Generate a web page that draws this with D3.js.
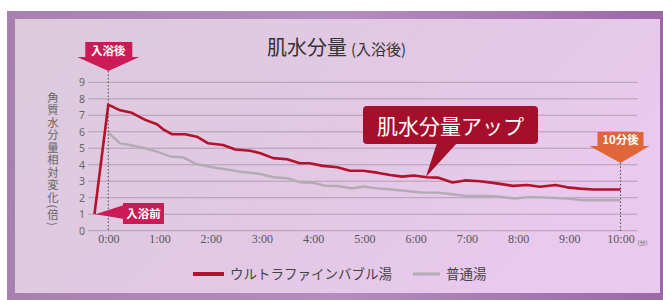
<!DOCTYPE html>
<html>
<head>
<meta charset="utf-8">
<script src="https://cdn.jsdelivr.net/npm/d3@7"></script>
<style>
  body { margin: 0; background: #fff; }
  svg { display: block; }
</style>
</head>
<body>
<div class="chart"></div>
<script>
// values (t = minutes after bath, v = relative change)
var ultraT = [-0.27, 0, 0.23, 0.46, 0.72, 0.95, 1.07, 1.24, 1.5, 1.73, 1.95, 2.24, 2.48, 2.77, 2.97, 3.22, 3.49, 3.74, 3.93, 4.19, 4.47, 4.72, 4.98, 5.25, 5.5, 5.74, 5.96, 6.22, 6.43, 6.72, 6.96, 7.26, 7.51, 7.9, 8.18, 8.43, 8.73, 8.96, 9.21, 9.47, 10];
var ultraV = [1, 7.65, 7.3, 7.15, 6.72, 6.46, 6.15, 5.85, 5.85, 5.7, 5.3, 5.2, 4.92, 4.85, 4.7, 4.4, 4.33, 4.09, 4.09, 3.93, 3.85, 3.64, 3.64, 3.52, 3.38, 3.28, 3.35, 3.24, 3.22, 2.92, 3.05, 3.0, 2.9, 2.72, 2.77, 2.67, 2.77, 2.63, 2.55, 2.5, 2.5];
var plainT = [0, 0.23, 0.42, 0.72, 0.95, 1.21, 1.46, 1.73, 2.12, 2.38, 2.57, 2.97, 3.22, 3.49, 3.74, 4.0, 4.23, 4.47, 4.77, 4.98, 5.25, 5.53, 5.83, 6.15, 6.42, 6.72, 7.0, 7.39, 7.65, 7.94, 8.23, 8.62, 8.96, 9.27, 10];
var plainV = [5.95, 5.3, 5.2, 5.0, 4.8, 4.5, 4.45, 4.03, 3.8, 3.68, 3.58, 3.44, 3.24, 3.18, 2.94, 2.91, 2.73, 2.71, 2.57, 2.68, 2.57, 2.5, 2.41, 2.31, 2.31, 2.21, 2.1, 2.1, 2.06, 1.95, 2.05, 2.0, 1.95, 1.85, 1.85];
var xTicks = [0, 1, 2, 3, 4, 5, 6, 7, 8, 9, 10];
var xTickLabels = ["0:00", "1:00", "2:00", "3:00", "4:00", "5:00", "6:00", "7:00", "8:00", "9:00", "10:00"];
var yTicks = [0, 1, 2, 3, 4, 5, 6, 7, 8, 9];
var seriesNames = ["ウルトラファインバブル湯", "普通湯"];
var yTitle = "角質水分量相対変化(倍)";

var W = 663, H = 300;
var redC = "#b3112c", grayC = "#b3abb3", pinkC = "#cc1a57", orangeC = "#e0663a";

var svg = d3.select("div.chart").append("svg")
    .attr("width", W)
    .attr("height", H);

var defs = svg.append("defs");
var frameG = defs.append("linearGradient").attr("id", "frame").attr("x1", 0).attr("x2", 1);
frameG.append("stop").attr("offset", 0).attr("stop-color", "#a880b0");
frameG.append("stop").attr("offset", 0.5).attr("stop-color", "#b58cc0");
frameG.append("stop").attr("offset", 1).attr("stop-color", "#9c68a8");
var panelG = defs.append("linearGradient").attr("id", "panel").attr("x1", 0).attr("x2", 1).attr("y1", 0).attr("y2", 0.4);
panelG.append("stop").attr("offset", 0).attr("stop-color", "#dccbdc");
panelG.append("stop").attr("offset", 0.55).attr("stop-color", "#e2c8e4");
panelG.append("stop").attr("offset", 1).attr("stop-color", "#e9c9ee");

// frame + panel
svg.append("rect").attr("x", 7).attr("y", 11).attr("width", W - 7).attr("height", H - 11).attr("fill", "url(#frame)");
svg.append("rect").attr("x", 15).attr("y", 19).attr("width", 645).attr("height", 274).attr("fill", "url(#panel)");

var x = d3.scaleLinear().domain([0, 10]).range([108.3, 620.5]);
var y = d3.scaleLinear().domain([0, 9]).range([230.7, 82.3]);

// grid
svg.append("g").selectAll("line")
    .data(yTicks)
    .join("line")
    .attr("x1", x(-0.39)).attr("x2", x(10.33))
    .attr("y1", function (d) { return y(d); })
    .attr("y2", function (d) { return y(d); })
    .attr("stroke", "#ab9aac")
    .attr("stroke-width", 0.9);

// y axis labels
var yAxis = d3.axisLeft(y).tickValues(yTicks).tickSize(0).tickPadding(0);
var yg = svg.append("g").attr("transform", "translate(82,0)").call(yAxis);
yg.select(".domain").remove();
yg.selectAll("text").attr("fill", "#666").style("font-family", "'Noto Sans', sans-serif").style("font-size", "10.5px").attr("text-anchor", "middle");

// x axis labels
var xAxis = d3.axisBottom(x).tickValues(xTicks).tickSize(0).tickPadding(0)
    .tickFormat(function (d, i) { return xTickLabels[i]; });
var xg = svg.append("g").attr("transform", "translate(0,234)").call(xAxis);
xg.select(".domain").remove();
xg.selectAll("text").attr("fill", "#555").style("font-family", "'Liberation Serif', serif").style("font-size", "12px");
svg.append("text").attr("x", x(10) + 17).attr("y", 245).attr("fill", "#666")
    .style("font-family", "'Noto Sans CJK JP'").style("font-size", "6px").text("(分)");

// y axis title, vertical text
svg.append("text")
    .attr("x", 53).attr("y", 92)
    .style("writing-mode", "vertical-rl")
    .style("font-family", "'Noto Sans CJK JP'")
    .style("font-size", "11.3px")
    .style("letter-spacing", "1.2px")
    .attr("fill", "#666")
    .text(yTitle);

// title
var title = svg.append("text").attr("x", 267).attr("y", 55).attr("fill", "#333").style("font-family", "'Noto Sans CJK JP'");
title.append("tspan").style("font-size", "20px").text("肌水分量");
title.append("tspan").attr("dx", 4).style("font-size", "15px").text("(入浴後)");

// dotted markers
[0, 10].forEach(function (t, i) {
    svg.append("line")
        .attr("x1", x(t)).attr("x2", x(t))
        .attr("y1", i === 0 ? 71 : 163).attr("y2", 232)
        .attr("stroke", "#555").attr("stroke-width", 1.1)
        .attr("stroke-dasharray", "1.5,2");
});

// lines
var line = d3.line()
    .x(function (d) { return x(d[0]); })
    .y(function (d) { return y(d[1]); });

svg.append("path")
    .datum(d3.zip(plainT, plainV))
    .attr("d", line)
    .attr("fill", "none")
    .attr("stroke", grayC)
    .attr("stroke-width", 2.4)
    .attr("stroke-linejoin", "round");

svg.append("path")
    .datum(d3.zip(ultraT, ultraV))
    .attr("d", line)
    .attr("fill", "none")
    .attr("stroke", redC)
    .attr("stroke-width", 2.6)
    .attr("stroke-linejoin", "round");

var lbl = { "font-family": "'Noto Sans CJK JP'", "font-weight": "bold", "font-size": "11.5px" };
function styleText(t) {
    Object.keys(lbl).forEach(function (k) { t.style(k, lbl[k]); });
    return t;
}

// 入浴後 marker
var x0 = x(0);
svg.append("rect").attr("x", x0 - 23).attr("y", 42).attr("width", 47).attr("height", 16).attr("fill", pinkC);
svg.append("path").attr("d", "M" + (x0 - 31) + ",57L" + (x0 + 31) + ",57L" + x0 + ",71Z").attr("fill", pinkC);
styleText(svg.append("text").attr("x", x0).attr("y", 54.5).attr("text-anchor", "middle").attr("fill", "#fff").text("入浴後"));

// 入浴前 marker
var sx = x(ultraT[0]), sy = y(ultraV[0]);
svg.append("path").attr("d", "M" + (sx + 1) + "," + sy + "L124,205L124,219Z").attr("fill", pinkC);
svg.append("rect").attr("x", 123).attr("y", 203).attr("width", 41).attr("height", 21).attr("fill", pinkC);
styleText(svg.append("text").attr("x", 143.5).attr("y", 218).attr("text-anchor", "middle").attr("fill", "#fff").text("入浴前"));

// 10分後 marker
var x10 = x(10);
svg.append("rect").attr("x", x10 - 23).attr("y", 132).attr("width", 46).attr("height", 15).attr("fill", orangeC);
svg.append("path").attr("d", "M" + (x10 - 31) + ",146L" + (x10 + 29) + ",146L" + x10 + ",163Z").attr("fill", orangeC);
styleText(svg.append("text").attr("x", x10).attr("y", 144).attr("text-anchor", "middle").attr("fill", "#fff").style("font-size", "10.5px").text("10分後"));

// callout
svg.append("rect").attr("x", 363).attr("y", 106).attr("width", 175).attr("height", 38).attr("rx", 4).attr("fill", "#a60f2b");
svg.append("path").attr("d", "M437,143L457,143L" + x(6.2) + "," + y(3.25) + "Z").attr("fill", "#a60f2b");
svg.append("text").attr("x", 450.5).attr("y", 133.5).attr("text-anchor", "middle").attr("fill", "#fff")
    .style("font-family", "'Noto Sans CJK JP'").style("font-size", "21px").text("肌水分量アップ");

// legend
var legend = svg.append("g").attr("transform", "translate(193,274)");
var items = [{ name: seriesNames[0], c: redC, w: 4, x: 0, len: 31 }, { name: seriesNames[1], c: grayC, w: 3, x: 220, len: 27 }];
items.forEach(function (it) {
    legend.append("line").attr("x1", it.x).attr("x2", it.x + it.len).attr("y1", 0).attr("y2", 0)
        .attr("stroke", it.c).attr("stroke-width", it.w);
    legend.append("text").attr("x", it.x + it.len + 6).attr("y", 5).attr("fill", "#444")
        .style("font-family", "'Noto Sans CJK JP'").style("font-size", "13.5px").text(it.name);
});
</script>
</body>
</html>
